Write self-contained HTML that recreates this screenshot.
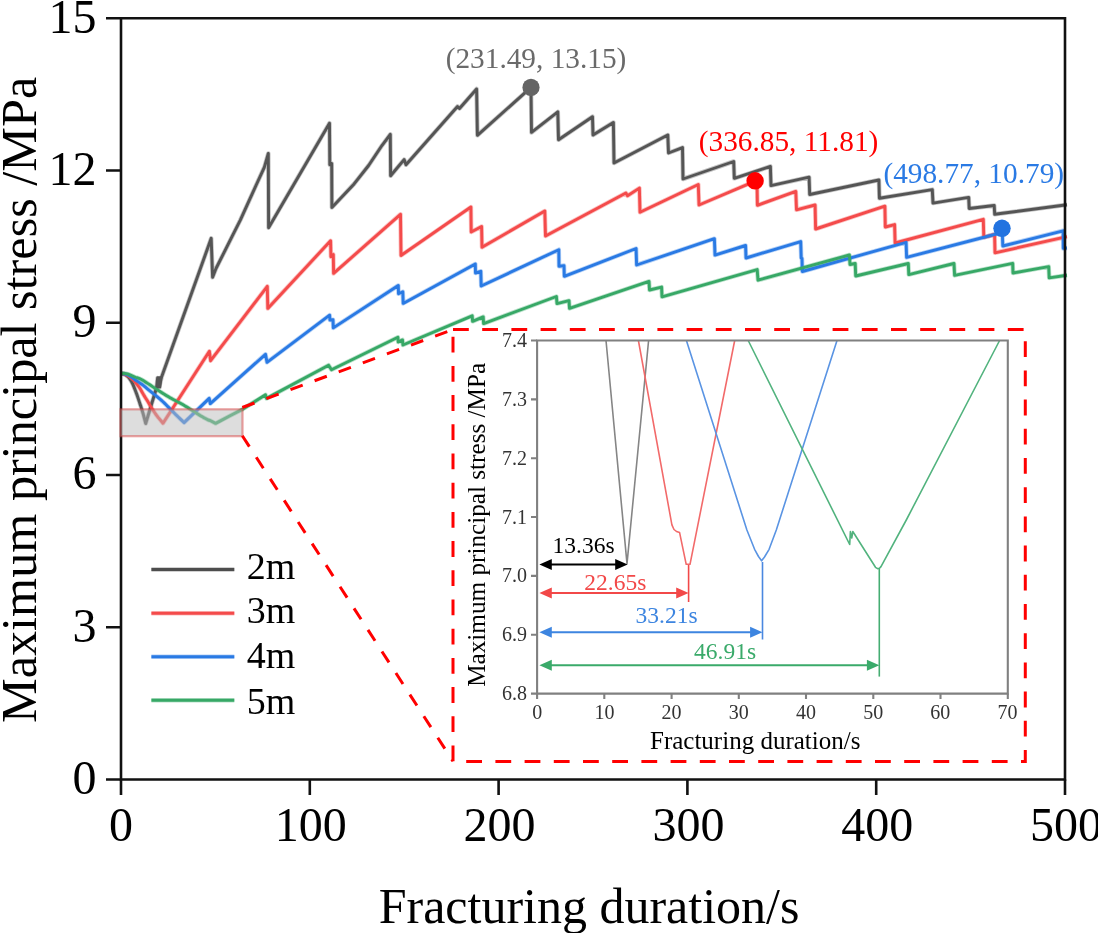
<!DOCTYPE html>
<html><head><meta charset="utf-8">
<style>
html,body{margin:0;padding:0;background:#fff;}
body{width:1098px;height:933px;overflow:hidden;}
svg{display:block;font-family:"Liberation Serif",serif;will-change:transform;}
</style></head>
<body>
<svg width="1098" height="933" viewBox="0 0 1098 933">
<rect width="1098" height="933" fill="#fff"/>
<defs>
<clipPath id="pc"><rect x="121" y="18" width="946.5" height="762"/></clipPath>
<clipPath id="ic"><rect x="537.1" y="340.5" width="470.7" height="353.1"/></clipPath>
</defs>

<!-- main curves -->
<g clip-path="url(#pc)" fill="none" stroke-width="4.5" stroke-linejoin="round" stroke-linecap="butt" stroke-opacity="0.35">
<path stroke="#555555" d="M121,373.5 L121.34,373.51 L121.82,373.51 L122.38,373.53 L122.96,373.59 L123.5,373.7 L124,373.87 L124.49,374.08 L124.98,374.33 L125.48,374.64 L126,375 L126.55,375.43 L127.13,375.92 L127.71,376.45 L128.27,377.02 L128.8,377.6 L129.28,378.19 L129.73,378.8 L130.16,379.44 L130.58,380.11 L131,380.8 L131.39,381.46 L131.74,382.07 L132.1,382.75 L132.51,383.59 L133,384.7 L133.61,386.16 L134.32,387.9 L135.06,389.81 L135.81,391.75 L136.5,393.6 L137.13,395.36 L137.74,397.12 L138.33,398.88 L138.91,400.64 L139.5,402.4 L140.1,404.21 L140.72,406.06 L141.32,407.89 L141.89,409.66 L142.4,411.3 L142.85,412.8 L143.26,414.2 L143.62,415.51 L143.97,416.77 L144.3,418 L144.63,419.26 L144.96,420.55 L145.26,421.75 L145.52,422.77 L145.7,423.5 L156.6,387.5 L157.6,378 L159.5,386 L161.6,377 L211.2,238.3 L212.6,277.3 L216,268.5 L224.1,252.4 L232.1,236.4 L240.2,220.3 L248.2,202.7 L256.2,185 L264.3,167.3 L268.3,153.5 L268.6,227.7 L329.5,123.2 L329.8,164.8 L331.7,163.5 L331.9,207.5 L339.7,199.3 L354.1,183.9 L368.6,165.5 L382.1,145.3 L390.3,134.4 L390.6,175.8 L404.1,159.6 L406,164.8 L457.5,106.5 L459.5,108.5 L476.6,89 L477.4,135.3 L531,87.4 L531.5,132.4 L557.8,111.9 L558.5,139.8 L592.5,116.7 L593,135 L613.4,122.5 L614,163 L667.8,135 L668.5,153 L682.5,147.6 L683,179 L733.7,161.5 L734.3,178.3 L770.4,166.4 L771,185.6 L809.1,177.2 L809.7,194.5 L878.9,180 L879.4,198.3 L932.3,189.6 L933,203.1 L968.7,197.4 L969.2,208.5 L994.2,205.5 L994.7,214.3 L1067,204.8"/>
<path stroke="#f44b4b" d="M121,373.5 L121.55,373.59 L122.32,373.7 L123.22,373.84 L124.15,374.04 L125,374.3 L125.79,374.65 L126.59,375.08 L127.37,375.55 L128.11,376.04 L128.8,376.5 L129.4,376.93 L129.94,377.34 L130.44,377.76 L130.95,378.2 L131.5,378.7 L132.08,379.22 L132.67,379.74 L133.28,380.32 L133.95,380.99 L134.7,381.8 L135.57,382.78 L136.54,383.9 L137.55,385.12 L138.56,386.4 L139.5,387.7 L140.36,389.05 L141.19,390.48 L141.99,391.95 L142.79,393.4 L143.6,394.8 L144.42,396.13 L145.24,397.42 L146.06,398.69 L146.88,399.98 L147.7,401.3 L148.51,402.67 L149.31,404.06 L150.11,405.47 L150.94,406.89 L151.8,408.3 L152.74,409.76 L153.74,411.27 L154.75,412.76 L155.72,414.16 L156.6,415.4 L157.38,416.44 L158.08,417.32 L158.74,418.1 L159.37,418.84 L160,419.6 L160.67,420.42 L161.37,421.26 L162.04,422.05 L162.6,422.72 L163,423.2 L209.4,351.3 L210.6,360.7 L267.3,286.4 L267.8,308.4 L330.6,240.8 L330.9,256.8 L333.3,254.5 L333.6,273.4 L400.5,214.3 L401,255.5 L470.9,207 L471.2,232 L481.6,226.5 L482,247.2 L544.8,211 L545.5,236 L625.9,193 L627.5,195.8 L639.4,188.1 L640,212.2 L698.3,184.5 L699,205 L757,180.3 L757.4,205.3 L795.8,191.4 L796.5,209.8 L815.1,205 L815.6,229 L884.9,206.2 L885.3,227 L894.6,224.6 L895.1,243 L983.3,219.3 L983.8,237.3 L994.6,234.5 L995,252.8 L1067,236.7"/>
<path stroke="#2a7ae4" d="M121,373.5 L121.7,373.61 L122.69,373.75 L123.83,373.93 L124.98,374.15 L126,374.4 L126.85,374.68 L127.64,374.98 L128.4,375.32 L129.17,375.72 L130,376.2 L130.9,376.79 L131.85,377.47 L132.82,378.21 L133.77,378.93 L134.7,379.6 L135.59,380.2 L136.46,380.77 L137.32,381.32 L138.17,381.86 L139,382.4 L139.8,382.92 L140.57,383.42 L141.34,383.92 L142.14,384.47 L143,385.1 L143.9,385.82 L144.81,386.59 L145.77,387.42 L146.82,388.32 L148,389.3 L149.34,390.38 L150.82,391.55 L152.38,392.78 L153.96,394.04 L155.5,395.3 L157.01,396.56 L158.52,397.84 L160.04,399.14 L161.53,400.46 L163,401.8 L164.43,403.17 L165.84,404.56 L167.22,405.98 L168.61,407.39 L170,408.8 L171.4,410.2 L172.8,411.61 L174.19,413.01 L175.59,414.41 L177,415.8 L178.53,417.28 L180.17,418.86 L181.77,420.38 L183.13,421.68 L184.1,422.6 L209.2,398.4 L210.3,403.6 L265.5,354.3 L267,362.3 L329.6,315.2 L329.9,320 L333,319.8 L333.3,327.9 L398.3,285.5 L398.5,293.8 L402.8,291.8 L403.2,303.4 L475.3,264 L475.5,273 L480.8,271.3 L481.2,286 L558.8,249.7 L559,266.3 L564,265.6 L564.3,276.3 L636.1,248.5 L636.6,265 L714.4,238.7 L715,255.1 L745.6,245.5 L746,258 L800.7,241.6 L801.2,258 L802,258.5 L802.3,271.5 L906.1,242.3 L906.6,257.4 L1002.3,232.5 L1002.8,246 L1063.1,230.8 L1063.3,248.4 L1067,248"/>
<path stroke="#37a866" d="M121,373.5 L121.54,373.5 L122.31,373.49 L123.21,373.5 L124.14,373.53 L125,373.6 L125.78,373.71 L126.53,373.84 L127.3,374 L128.11,374.22 L129,374.5 L129.97,374.87 L131.01,375.31 L132.09,375.8 L133.23,376.3 L134.4,376.8 L135.62,377.26 L136.89,377.7 L138.2,378.16 L139.54,378.68 L140.9,379.3 L142.28,380.03 L143.68,380.86 L145.1,381.74 L146.54,382.67 L148,383.6 L149.47,384.56 L150.97,385.56 L152.48,386.58 L153.99,387.6 L155.5,388.6 L157.01,389.58 L158.52,390.56 L160.04,391.53 L161.53,392.48 L163,393.4 L164.42,394.29 L165.79,395.16 L167.15,396 L168.54,396.85 L170,397.7 L171.55,398.57 L173.18,399.44 L174.82,400.31 L176.45,401.17 L178,402 L179.46,402.8 L180.87,403.56 L182.25,404.32 L183.62,405.09 L185,405.9 L186.38,406.74 L187.75,407.59 L189.13,408.47 L190.54,409.37 L192,410.3 L193.58,411.31 L195.27,412.4 L196.97,413.48 L198.58,414.51 L200,415.4 L201.27,416.17 L202.46,416.86 L203.5,417.45 L204.37,417.94 L205,418.3 L208.2,420 L210.1,420.5 L215.6,423.4 L220,421.1 L230.5,415.5 L242.3,409.4 L265.5,394.8 L266.5,398.4 L328.6,365.2 L331.5,369.7 L397.9,337.3 L398.2,342 L402.5,339.9 L402.9,345 L472.2,315.8 L472.6,321.3 L483.2,316.9 L483.6,323.6 L556.4,296.5 L557,303.6 L569,300.7 L569.5,308.4 L649,281.4 L649.5,290 L661.6,287.1 L662,296.8 L757.2,269.6 L758,280.2 L849.4,255 L850,264.5 L855.2,263.5 L855.7,276 L908.3,263.5 L908.8,274.6 L954,263.5 L954.6,275.4 L1012.7,263.4 L1013,273 L1048.7,266.6 L1049.2,277.9 L1067,275.2"/>
</g>
<g clip-path="url(#pc)" fill="none" stroke-width="2.9" stroke-linejoin="round" stroke-linecap="butt">
<path stroke="#555555" d="M121,373.5 L121.34,373.51 L121.82,373.51 L122.38,373.53 L122.96,373.59 L123.5,373.7 L124,373.87 L124.49,374.08 L124.98,374.33 L125.48,374.64 L126,375 L126.55,375.43 L127.13,375.92 L127.71,376.45 L128.27,377.02 L128.8,377.6 L129.28,378.19 L129.73,378.8 L130.16,379.44 L130.58,380.11 L131,380.8 L131.39,381.46 L131.74,382.07 L132.1,382.75 L132.51,383.59 L133,384.7 L133.61,386.16 L134.32,387.9 L135.06,389.81 L135.81,391.75 L136.5,393.6 L137.13,395.36 L137.74,397.12 L138.33,398.88 L138.91,400.64 L139.5,402.4 L140.1,404.21 L140.72,406.06 L141.32,407.89 L141.89,409.66 L142.4,411.3 L142.85,412.8 L143.26,414.2 L143.62,415.51 L143.97,416.77 L144.3,418 L144.63,419.26 L144.96,420.55 L145.26,421.75 L145.52,422.77 L145.7,423.5 L156.6,387.5 L157.6,378 L159.5,386 L161.6,377 L211.2,238.3 L212.6,277.3 L216,268.5 L224.1,252.4 L232.1,236.4 L240.2,220.3 L248.2,202.7 L256.2,185 L264.3,167.3 L268.3,153.5 L268.6,227.7 L329.5,123.2 L329.8,164.8 L331.7,163.5 L331.9,207.5 L339.7,199.3 L354.1,183.9 L368.6,165.5 L382.1,145.3 L390.3,134.4 L390.6,175.8 L404.1,159.6 L406,164.8 L457.5,106.5 L459.5,108.5 L476.6,89 L477.4,135.3 L531,87.4 L531.5,132.4 L557.8,111.9 L558.5,139.8 L592.5,116.7 L593,135 L613.4,122.5 L614,163 L667.8,135 L668.5,153 L682.5,147.6 L683,179 L733.7,161.5 L734.3,178.3 L770.4,166.4 L771,185.6 L809.1,177.2 L809.7,194.5 L878.9,180 L879.4,198.3 L932.3,189.6 L933,203.1 L968.7,197.4 L969.2,208.5 L994.2,205.5 L994.7,214.3 L1067,204.8"/>
<path id="blk" d="M155.9,388.4 L157.3,376.6 L162.3,375.9 L161.2,388.6 Z" fill="#555555" stroke="none"/>
<path stroke="#f44b4b" d="M121,373.5 L121.55,373.59 L122.32,373.7 L123.22,373.84 L124.15,374.04 L125,374.3 L125.79,374.65 L126.59,375.08 L127.37,375.55 L128.11,376.04 L128.8,376.5 L129.4,376.93 L129.94,377.34 L130.44,377.76 L130.95,378.2 L131.5,378.7 L132.08,379.22 L132.67,379.74 L133.28,380.32 L133.95,380.99 L134.7,381.8 L135.57,382.78 L136.54,383.9 L137.55,385.12 L138.56,386.4 L139.5,387.7 L140.36,389.05 L141.19,390.48 L141.99,391.95 L142.79,393.4 L143.6,394.8 L144.42,396.13 L145.24,397.42 L146.06,398.69 L146.88,399.98 L147.7,401.3 L148.51,402.67 L149.31,404.06 L150.11,405.47 L150.94,406.89 L151.8,408.3 L152.74,409.76 L153.74,411.27 L154.75,412.76 L155.72,414.16 L156.6,415.4 L157.38,416.44 L158.08,417.32 L158.74,418.1 L159.37,418.84 L160,419.6 L160.67,420.42 L161.37,421.26 L162.04,422.05 L162.6,422.72 L163,423.2 L209.4,351.3 L210.6,360.7 L267.3,286.4 L267.8,308.4 L330.6,240.8 L330.9,256.8 L333.3,254.5 L333.6,273.4 L400.5,214.3 L401,255.5 L470.9,207 L471.2,232 L481.6,226.5 L482,247.2 L544.8,211 L545.5,236 L625.9,193 L627.5,195.8 L639.4,188.1 L640,212.2 L698.3,184.5 L699,205 L757,180.3 L757.4,205.3 L795.8,191.4 L796.5,209.8 L815.1,205 L815.6,229 L884.9,206.2 L885.3,227 L894.6,224.6 L895.1,243 L983.3,219.3 L983.8,237.3 L994.6,234.5 L995,252.8 L1067,236.7"/>
<path stroke="#2a7ae4" d="M121,373.5 L121.7,373.61 L122.69,373.75 L123.83,373.93 L124.98,374.15 L126,374.4 L126.85,374.68 L127.64,374.98 L128.4,375.32 L129.17,375.72 L130,376.2 L130.9,376.79 L131.85,377.47 L132.82,378.21 L133.77,378.93 L134.7,379.6 L135.59,380.2 L136.46,380.77 L137.32,381.32 L138.17,381.86 L139,382.4 L139.8,382.92 L140.57,383.42 L141.34,383.92 L142.14,384.47 L143,385.1 L143.9,385.82 L144.81,386.59 L145.77,387.42 L146.82,388.32 L148,389.3 L149.34,390.38 L150.82,391.55 L152.38,392.78 L153.96,394.04 L155.5,395.3 L157.01,396.56 L158.52,397.84 L160.04,399.14 L161.53,400.46 L163,401.8 L164.43,403.17 L165.84,404.56 L167.22,405.98 L168.61,407.39 L170,408.8 L171.4,410.2 L172.8,411.61 L174.19,413.01 L175.59,414.41 L177,415.8 L178.53,417.28 L180.17,418.86 L181.77,420.38 L183.13,421.68 L184.1,422.6 L209.2,398.4 L210.3,403.6 L265.5,354.3 L267,362.3 L329.6,315.2 L329.9,320 L333,319.8 L333.3,327.9 L398.3,285.5 L398.5,293.8 L402.8,291.8 L403.2,303.4 L475.3,264 L475.5,273 L480.8,271.3 L481.2,286 L558.8,249.7 L559,266.3 L564,265.6 L564.3,276.3 L636.1,248.5 L636.6,265 L714.4,238.7 L715,255.1 L745.6,245.5 L746,258 L800.7,241.6 L801.2,258 L802,258.5 L802.3,271.5 L906.1,242.3 L906.6,257.4 L1002.3,232.5 L1002.8,246 L1063.1,230.8 L1063.3,248.4 L1067,248"/>
<path stroke="#37a866" d="M121,373.5 L121.54,373.5 L122.31,373.49 L123.21,373.5 L124.14,373.53 L125,373.6 L125.78,373.71 L126.53,373.84 L127.3,374 L128.11,374.22 L129,374.5 L129.97,374.87 L131.01,375.31 L132.09,375.8 L133.23,376.3 L134.4,376.8 L135.62,377.26 L136.89,377.7 L138.2,378.16 L139.54,378.68 L140.9,379.3 L142.28,380.03 L143.68,380.86 L145.1,381.74 L146.54,382.67 L148,383.6 L149.47,384.56 L150.97,385.56 L152.48,386.58 L153.99,387.6 L155.5,388.6 L157.01,389.58 L158.52,390.56 L160.04,391.53 L161.53,392.48 L163,393.4 L164.42,394.29 L165.79,395.16 L167.15,396 L168.54,396.85 L170,397.7 L171.55,398.57 L173.18,399.44 L174.82,400.31 L176.45,401.17 L178,402 L179.46,402.8 L180.87,403.56 L182.25,404.32 L183.62,405.09 L185,405.9 L186.38,406.74 L187.75,407.59 L189.13,408.47 L190.54,409.37 L192,410.3 L193.58,411.31 L195.27,412.4 L196.97,413.48 L198.58,414.51 L200,415.4 L201.27,416.17 L202.46,416.86 L203.5,417.45 L204.37,417.94 L205,418.3 L208.2,420 L210.1,420.5 L215.6,423.4 L220,421.1 L230.5,415.5 L242.3,409.4 L265.5,394.8 L266.5,398.4 L328.6,365.2 L331.5,369.7 L397.9,337.3 L398.2,342 L402.5,339.9 L402.9,345 L472.2,315.8 L472.6,321.3 L483.2,316.9 L483.6,323.6 L556.4,296.5 L557,303.6 L569,300.7 L569.5,308.4 L649,281.4 L649.5,290 L661.6,287.1 L662,296.8 L757.2,269.6 L758,280.2 L849.4,255 L850,264.5 L855.2,263.5 L855.7,276 L908.3,263.5 L908.8,274.6 L954,263.5 L954.6,275.4 L1012.7,263.4 L1013,273 L1048.7,266.6 L1049.2,277.9 L1067,275.2"/>
</g>


<!-- dots -->
<circle cx="531" cy="87.4" r="8.6" fill="#646464"/>
<circle cx="755.1" cy="180.8" r="8.7" fill="#ff0000"/>
<circle cx="1002" cy="228.3" r="8.7" fill="#2273e0"/>

<!-- annotation labels -->
<g font-size="29.3">
<text x="445.7" y="67.8" fill="#6a6a6a">(231.49, 13.15)</text>
<text x="698.8" y="150.5" fill="#ff0000">(336.85, 11.81)</text>
<text x="883.4" y="182.8" fill="#2a7ae4">(498.77, 10.79)</text>
</g>

<!-- main axes -->
<g stroke="#111" stroke-width="2.6" fill="none">
<path d="M121,18.3 H1065 V779.5 H121 Z"/>
<path d="M106,18.3 H121 M106,170.5 H121 M106,322.75 H121 M106,475 H121 M106,627.25 H121 M106,779.5 H121"/>
<path d="M121,779.5 V795 M309.8,779.5 V795 M498.6,779.5 V795 M687.4,779.5 V795 M876.2,779.5 V795 M1065,779.5 V795"/>
</g>

<!-- highlight rect -->
<rect x="120.5" y="409.3" width="122" height="26.9" fill="rgba(188,188,188,0.5)" stroke="rgba(215,70,70,0.5)" stroke-width="2.2"/>
<!-- y tick labels -->
<g font-size="48" text-anchor="end" fill="#000" transform="translate(1.5,0)">
<text x="95" y="32.5">15</text>
<text x="95" y="184.7">12</text>
<text x="95" y="337">9</text>
<text x="95" y="489.2">6</text>
<text x="95" y="641.5">3</text>
<text x="95" y="793.7">0</text>
</g>
<!-- x tick labels -->
<g font-size="48" text-anchor="middle" fill="#000">
<text x="121" y="841">0</text>
<text x="310.8" y="841">100</text>
<text x="499.6" y="841">200</text>
<text x="688.4" y="841">300</text>
<text x="877.2" y="841">400</text>
<text x="1066" y="841">500</text>
</g>

<!-- axis titles -->
<text x="378.7" y="922.6" font-size="50" fill="#000">Fracturing duration/s</text>
<text transform="translate(36.4,723) rotate(-90)" font-size="50.25" fill="#000">Maximum principal stress /MPa</text>

<!-- legend -->
<g stroke-width="4.5" fill="none" stroke-opacity="0.35">
<path d="M151.4,569.6 H234.3" stroke="#4d4d4d"/>
<path d="M151.4,613.2 H234.3" stroke="#f44b4b"/>
<path d="M151.4,656.7 H234.3" stroke="#2a7ae4"/>
<path d="M151.4,700.3 H234.3" stroke="#37a866"/>
</g>
<g stroke-width="3" fill="none">
<path d="M151.4,569.6 H234.3" stroke="#4d4d4d"/>
<path d="M151.4,613.2 H234.3" stroke="#f44b4b"/>
<path d="M151.4,656.7 H234.3" stroke="#2a7ae4"/>
<path d="M151.4,700.3 H234.3" stroke="#37a866"/>
</g>
<g font-size="38" fill="#000">
<text x="246.8" y="578.8">2m</text>
<text x="246.8" y="623.4">3m</text>
<text x="246.8" y="668.2">4m</text>
<text x="246.8" y="713.6">5m</text>
</g>

<!-- dashed connectors and inset frame -->
<g stroke="#ff0000" stroke-width="3" fill="none">
<path d="M242.3,407.5 L453,329.5" stroke-dasharray="13 12.7"/>
<path d="M242.3,435.7 L453,761.3" stroke-dasharray="13 12.7"/>
<path d="M453,329.5 H1025.3 V761.5 H453 Z" stroke-dasharray="15.8 13.4"/>
</g>

<!-- inset -->
<g clip-path="url(#ic)" fill="none" stroke-width="1.6" stroke-linejoin="round">
<path stroke="#858585" d="M606,340.5 L627,563.6 L648.6,340.5"/>
<path stroke="#f26a6a" d="M638.4,340.5 L671.9,524.8 L674,529.5 L676.5,531.5 L679.6,532.6 L686.2,564.3 L690,564.3 L734.7,340.5"/>
<path stroke="#5a94e3" d="M686.4,340.5 L746.9,530 L754.6,549.3 L758.5,556.5 L761.6,560.8 L764.5,557 L769.1,549.3 L776.3,530 L837,340.5"/>
<path stroke="#52b37e" d="M748.2,340.5 L849.7,544.5 L850.4,531.5 L851.8,538 L852.8,531.5 L875.5,567.3 L877.5,568.6 L879.5,568.3 L881,566.6 L906.3,520 L999.6,340.5"/>
</g>
<!-- inset vertical guide lines -->
<g fill="none" stroke-width="1.6">
<path d="M688.6,565 V602" stroke="#f24848"/>
<path d="M762.5,562 V639.5" stroke="#4a88e0"/>
<path d="M879.3,568.7 V676.6" stroke="#45ad72"/>
</g>
<!-- arrows -->
<g stroke-width="2">
<path d="M548,564.6 H618" stroke="#000"/>
<path d="M539.4,564.6 l12.4,-5.5 v11 z M627.6,564.6 l-12.4,-5.5 v11 z" fill="#000"/>
<path d="M548,592.9 H680" stroke="#f24848"/>
<path d="M539.4,592.9 l12.4,-5.5 v11 z M688.6,592.9 l-12.4,-5.5 v11 z" fill="#f24848"/>
<path d="M548,632.3 H754" stroke="#3d85e0"/>
<path d="M539.4,632.3 l12.4,-5.5 v11 z M762.5,632.3 l-12.4,-5.5 v11 z" fill="#3d85e0"/>
<path d="M548,665.2 H871" stroke="#3aaa6a"/>
<path d="M539.4,665.2 l12.4,-5.5 v11 z M879.3,665.2 l-12.4,-5.5 v11 z" fill="#3aaa6a"/>
</g>
<g font-size="23.5">
<text x="552.5" y="553.4" fill="#000">13.36s</text>
<text x="584.3" y="589.8" fill="#f24848">22.65s</text>
<text x="635.5" y="623" fill="#3d85e0">33.21s</text>
<text x="694.1" y="658.6" fill="#3aaa6a">46.91s</text>
</g>

<!-- inset axes -->
<g stroke="#808080" stroke-width="2.1" fill="none">
<path d="M537.1,340.5 H1007.8 V693.6 H537.1 Z"/>
<path d="M531,340.5 H537.1 M531,399.35 H537.1 M531,458.2 H537.1 M531,517.05 H537.1 M531,575.9 H537.1 M531,634.75 H537.1 M531,693.6 H537.1"/>
<path d="M537.1,693.6 V699 M604.3,693.6 V699 M671.6,693.6 V699 M738.8,693.6 V699 M806,693.6 V699 M873.3,693.6 V699 M940.5,693.6 V699 M1007.8,693.6 V699"/>
</g>
<g font-size="20" fill="#333" text-anchor="end">
<text x="527" y="347">7.4</text>
<text x="527" y="405.8">7.3</text>
<text x="527" y="464.7">7.2</text>
<text x="527" y="523.5">7.1</text>
<text x="527" y="582.4">7.0</text>
<text x="527" y="641.2">6.9</text>
<text x="527" y="700.1">6.8</text>
</g>
<g font-size="20" fill="#333" text-anchor="middle">
<text x="537.3" y="719">0</text>
<text x="604.5" y="719">10</text>
<text x="671.6" y="719">20</text>
<text x="738.8" y="719">30</text>
<text x="806" y="719">40</text>
<text x="873.2" y="719">50</text>
<text x="940.3" y="719">60</text>
<text x="1007.5" y="719">70</text>
</g>
<text x="650" y="749" font-size="25" fill="#000">Fracturing duration/s</text>
<text transform="translate(485,686.8) rotate(-90)" font-size="25.2" fill="#000">Maximum principal stress /MPa</text>
</svg>
</body></html>
